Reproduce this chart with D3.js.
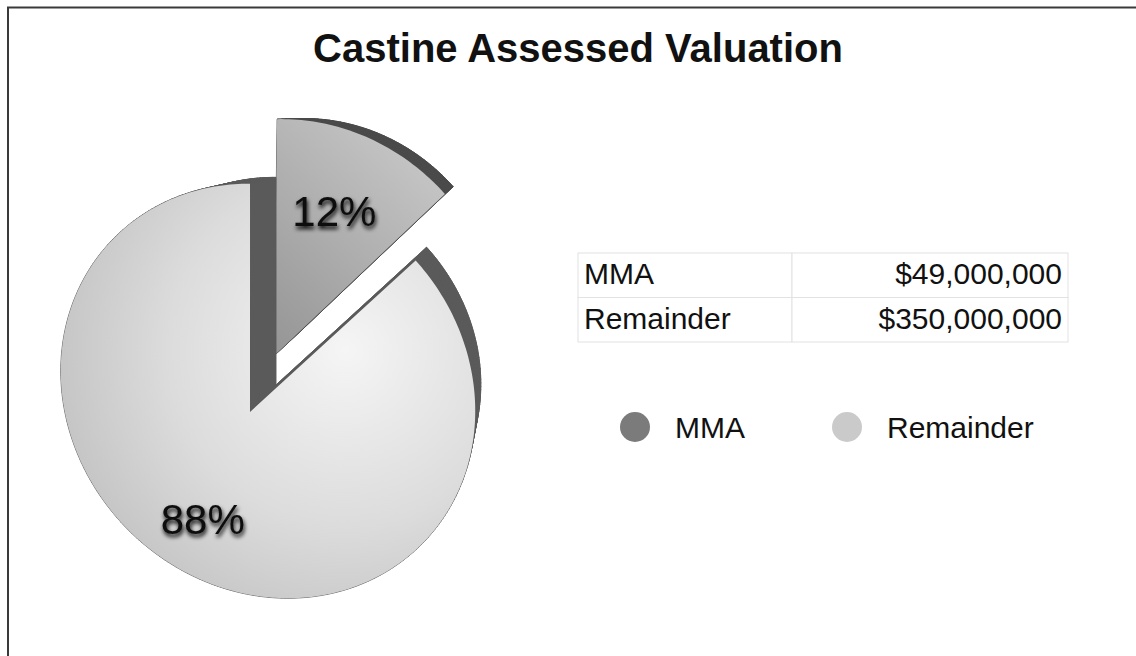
<!DOCTYPE html>
<html>
<head>
<meta charset="utf-8">
<script src="https://cdn.jsdelivr.net/npm/d3@7"></script>
<style>
  html, body { margin: 0; padding: 0; background: #fff; }
  svg { display: block; font-family: "Liberation Sans", Arial, Helvetica, sans-serif; }
</style>
</head>
<body>
<svg id="chart" width="1136" height="656"></svg>
<script>
// data
const categories = ["MMA", "Remainder"];
const values = [49000000, 350000000];
const pctLabels = ["12%", "88%"];
const valueLabels = ["$49,000,000", "$350,000,000"];
const title = "Castine Assessed Valuation";

const faceFill = { MMA: "url(#mmaFace)", Remainder: "url(#remFace)" };
const wallColor = { MMA: "#4a4a4a", Remainder: "#5a5a5a" };
const legendColor = d3.scaleOrdinal().domain(categories).range(["#7b7b7b", "#cacaca"]);

const svg = d3.select("#chart");
const defs = svg.append("defs");

const remGrad = defs.append("radialGradient").attr("id", "remFace")
    .attr("gradientUnits", "userSpaceOnUse")
    .attr("cx", 345).attr("cy", 350).attr("r", 320);
remGrad.append("stop").attr("offset", 0).attr("stop-color", "#f5f5f5");
remGrad.append("stop").attr("offset", 0.55).attr("stop-color", "#dcdcdc");
remGrad.append("stop").attr("offset", 1).attr("stop-color", "#bfbfbf");

const mmaGrad = defs.append("linearGradient").attr("id", "mmaFace")
    .attr("x1", 0.8).attr("y1", 0).attr("x2", 0.1).attr("y2", 1);
mmaGrad.append("stop").attr("offset", 0).attr("stop-color", "#c9c9c9");
mmaGrad.append("stop").attr("offset", 1).attr("stop-color", "#979797");

const shadow = defs.append("filter").attr("id", "tshadow")
    .attr("x", "-20%").attr("y", "-30%").attr("width", "140%").attr("height", "170%");
shadow.append("feGaussianBlur").attr("in", "SourceAlpha").attr("stdDeviation", 2.2);
shadow.append("feOffset").attr("dx", 1).attr("dy", 3).attr("result", "blur");
const merge = shadow.append("feMerge");
merge.append("feMergeNode").attr("in", "blur");
merge.append("feMergeNode").attr("in", "SourceGraphic");

// frame (top and left edges only)
svg.append("path")
    .attr("d", "M8,656V7.5H1136")
    .attr("fill", "none")
    .attr("stroke", "#3a3a3a")
    .attr("stroke-width", 2);

svg.append("text")
    .attr("x", 578).attr("y", 62)
    .attr("text-anchor", "middle")
    .attr("font-size", 40)
    .attr("font-weight", "bold")
    .attr("fill", "#111")
    .text(title);

// ---- perspective pie ----
// top face of the disc is an ellipse, the pie centre sits off its middle
const ellC = [268, 391], rU = 217, rV = 197;
const axU = [Math.SQRT1_2, Math.SQRT1_2], axV = [-Math.SQRT1_2, Math.SQRT1_2];
const apex = [250, 412];
const rel = [apex[0] - ellC[0], apex[1] - ellC[1]];
const q = [(rel[0] * axU[0] + rel[1] * axU[1]) / rU, (rel[0] * axV[0] + rel[1] * axV[1]) / rV];
const qr = Math.hypot(q[0], q[1]), qn = [q[0] / qr, q[1] / qr];

// projective map of the unit disc onto itself moving 0 -> q
function klein(p) {
    const par = p[0] * qn[0] + p[1] * qn[1];
    const perp = [p[0] - par * qn[0], p[1] - par * qn[1]];
    const den = 1 + qr * par;
    const k = Math.sqrt(1 - qr * qr) / den;
    const parN = (par + qr) / den;
    return [parN * qn[0] + perp[0] * k, parN * qn[1] + perp[1] * k];
}
function toScreen(d) {
    return [ellC[0] + rU * d[0] * axU[0] + rV * d[1] * axV[0],
            ellC[1] + rU * d[0] * axU[1] + rV * d[1] * axV[1]];
}

// find rotation so that angle 0 points straight up from the apex
let phi0 = 0, best = Infinity;
for (let i = 0; i < 7200; i++) {
    const a = i / 7200 * 2 * Math.PI;
    const s = toScreen(klein([Math.sin(a), -Math.cos(a)]));
    if (s[1] < apex[1] && Math.abs(s[0] - apex[0]) < best) { best = Math.abs(s[0] - apex[0]); phi0 = a; }
}

function project(theta, r, off) {
    return toScreen(klein([off[0] + r * Math.sin(theta + phi0), off[1] - r * Math.cos(theta + phi0)]));
}

// extrusion: bottom face shrinks toward a vanishing point
const vp = [537, 113], depthScale = 0.91;
const back = p => [vp[0] + depthScale * (p[0] - vp[0]), vp[1] + depthScale * (p[1] - vp[1])];

const explode = { MMA: 0.3, Remainder: 0 };
const shrink = { MMA: 0.96, Remainder: 1 };
const labelR = { MMA: 0.68, Remainder: 0.67 };
const pie = d3.pie().sort(null).value((d, i) => values[i]);
const arcs = pie(categories).map((d, i) => ({ ...d, name: categories[i], label: pctLabels[i] }));

const line = d3.line();

function slicePts(d) {
    const mid = (d.startAngle + d.endAngle) / 2;
    const e = explode[d.name];
    const off = [e * Math.sin(mid + phi0), -e * Math.cos(mid + phi0)];
    const n = Math.ceil((d.endAngle - d.startAngle) / (Math.PI / 180));
    const tip = project(0, 0, off);
    const k = shrink[d.name];
    const sc = p => [tip[0] + k * (p[0] - tip[0]), tip[1] + k * (p[1] - tip[1])];
    const pts = [tip];
    for (let i = 0; i <= n; i++) {
        pts.push(sc(project(d.startAngle + (d.endAngle - d.startAngle) * i / n, 1, off)));
    }
    return { pts, off, mid, sc };
}

const pieG = svg.append("g");
// farther slice first
const order = arcs.slice().sort((a, b) => explode[b.name] - explode[a.name]);

order.forEach(d => {
    const { pts, off, mid, sc } = slicePts(d);
    const bp = pts.map(back);
    const g = pieG.append("g").attr("class", "slice");
    const walls = [line(bp) + "Z"];
    for (let i = 0; i < pts.length; i++) {
        const j = (i + 1) % pts.length;
        walls.push(line([pts[i], pts[j], bp[j], bp[i]]) + "Z");
    }
    g.selectAll("path.wall").data(walls).enter().append("path")
        .attr("class", "wall")
        .attr("d", w => w)
        .attr("fill", wallColor[d.name])
        .attr("stroke", wallColor[d.name])
        .attr("stroke-width", 0.8)
        .attr("stroke-linejoin", "round");
    g.append("path")
        .attr("d", line(pts) + "Z")
        .attr("fill", faceFill[d.name]);
    d.labelPos = sc(project(mid, labelR[d.name], off));
});

pieG.selectAll("text.pct").data(arcs).enter().append("text")
    .attr("class", "pct")
    .attr("x", d => d.labelPos[0])
    .attr("y", d => d.labelPos[1])
    .attr("text-anchor", "middle")
    .attr("dominant-baseline", "middle")
    .attr("font-size", 42)
    .attr("fill", "#111")
    .attr("filter", "url(#tshadow)")
    .text(d => d.label);

// ---- table ----
const tX = [578, 792, 1068];
const rowY = d3.scaleBand().domain(categories).range([253, 342]);
const table = svg.append("g");
table.selectAll("rect.cell").data(categories.flatMap(c => [[c, 0], [c, 1]])).enter().append("rect")
    .attr("x", d => tX[d[1]])
    .attr("y", d => rowY(d[0]))
    .attr("width", d => tX[d[1] + 1] - tX[d[1]])
    .attr("height", rowY.bandwidth())
    .attr("fill", "#fff")
    .attr("stroke", "#e2e2e2")
    .attr("stroke-width", 1);
table.selectAll("text.name").data(categories).enter().append("text")
    .attr("x", tX[0] + 6)
    .attr("y", d => rowY(d) + 31)
    .attr("font-size", 30)
    .attr("fill", "#111")
    .text(d => d);
table.selectAll("text.val").data(valueLabels).enter().append("text")
    .attr("x", tX[2] - 6)
    .attr("y", (d, i) => rowY(categories[i]) + 31)
    .attr("text-anchor", "end")
    .attr("font-size", 30)
    .attr("fill", "#111")
    .text(d => d);

// ---- legend ----
const legX = d3.scaleBand().domain(categories).range([600, 1024]);
const leg = svg.append("g").selectAll("g").data(categories).enter().append("g")
    .attr("transform", d => `translate(${legX(d)},427)`);
leg.append("circle").attr("cx", 35).attr("cy", 0).attr("r", 15).attr("fill", d => legendColor(d));
leg.append("text").attr("x", 75).attr("y", 10.5).attr("font-size", 30).attr("fill", "#111").text(d => d);
</script>
</body>
</html>
